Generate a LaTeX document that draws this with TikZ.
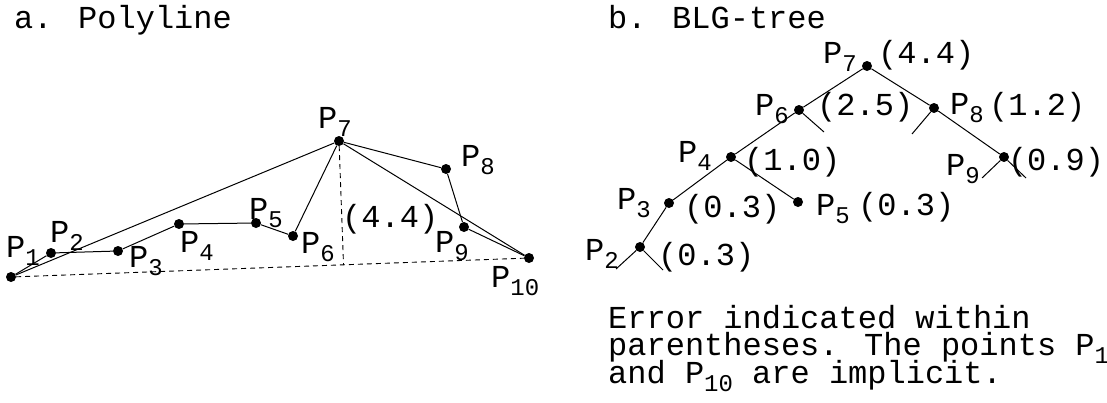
\documentclass[tikz,border=0pt]{standalone}
\usepackage{fontspec}
\setmainfont{Liberation Mono}
\usetikzlibrary{calc}

\newcommand{\pp}[1]{P\raisebox{-8pt}{\fontsize{24}{24}\selectfont #1}}

\begin{document}
\begin{tikzpicture}[x=1pt,y=-1pt,
  line/.style={draw=black,line width=1pt},
  guide/.style={draw=black,line width=0.9pt,dash pattern=on 5pt off 4pt},
  dot/.style={circle,fill=black,inner sep=0pt,minimum size=10pt},
  label/.style={font={\fontsize{32}{27.5}\selectfont\lineskiplimit=-30pt},inner sep=0pt,anchor=base west},
]
\path[use as bounding box] (0,0) rectangle (1107,402);
\node[label] (head-a) at (14,28) {a. Polyline};
\node[label] (head-b) at (608,28) {b. BLG-tree};

% a. the polyline
\node[dot] (p1) at (11,277) {};
\node[dot] (p2) at (51,253) {};
\node[dot] (p3) at (118,251) {};
\node[dot] (p4) at (179,224) {};
\node[dot] (p5) at (256,223) {};
\node[dot] (p6) at (293,236) {};
\node[dot] (p7) at (339,141) {};
\node[dot] (p8) at (446,169) {};
\node[dot] (p9) at (464,227) {};
\node[dot] (p10) at (529,258) {};
\draw[line] (p1) -- (p2) -- (p3) -- (p4) -- (p5) -- (p6) -- (p7) -- (p8) -- (p9) -- (p10);
\draw[line] (p1) -- (p7) -- (p10);
\coordinate (foot) at ($(p1)!(p7)!(p10)$);
\draw[guide] (p1) -- (p10);
\draw[guide] (p7) -- (foot);
\node[label] (lp1) at (6,257) {\pp{1}};
\node[label] (lp2) at (50,242) {\pp{2}};
\node[label] (lp3) at (129,267) {\pp{3}};
\node[label] (lp4) at (180,252) {\pp{4}};
\node[label] (lp5) at (249,219) {\pp{5}};
\node[label] (lp6) at (301,253) {\pp{6}};
\node[label] (lp7) at (318,128) {\pp{7}};
\node[label] (lp8) at (461,166) {\pp{8}};
\node[label] (lp9) at (435,252) {\pp{9}};
\node[label] (lp10) at (491,287) {\pp{10}};
\node[label] (err) at (342,227) {(4.4)};

% b. the BLG-tree
\node[dot] (t7) at (867,66) {};
\node[dot] (t6) at (799,110) {};
\node[dot] (t8) at (934,108) {};
\node[dot] (t4) at (731,157) {};
\node[dot] (t9) at (1004,157) {};
\node[dot] (t3) at (669,203) {};
\node[dot] (t5) at (798,202) {};
\node[dot] (t2) at (640,247) {};
\coordinate (s6) at (824,132);
\coordinate (s8) at (912,134);
\coordinate (s9l) at (982,178);
\coordinate (s9r) at (1026,178);
\coordinate (s2l) at (616,269);
\coordinate (s2r) at (663,270);
\draw[line] (t6) -- (t7) -- (t8) -- (t9);
\draw[line] (t2) -- (t3) -- (t4) -- (t6) -- (s6);
\draw[line] (t4) -- (t5);
\draw[line] (t8) -- (s8);
\draw[line] (s9l) -- (t9) -- (s9r);
\draw[line] (s2l) -- (t2) -- (s2r);
\node[label] (lt7) at (823,63) {\pp{7}};
\node[label] (et7) at (878,63) {(4.4)};
\node[label] (lt6) at (755,115) {\pp{6}};
\node[label] (et6) at (817,115) {(2.5)};
\node[label] (lt8) at (950,114) {\pp{8}};
\node[label] (et8) at (989,115) {(1.2)};
\node[label] (lt4) at (678,162) {\pp{4}};
\node[label] (et4) at (744,170) {(1.0)};
\node[label] (lt9) at (946,175) {\pp{9}};
\node[label,anchor=base] (et9) at (1056,170) {(0.9)};
\node[label] (lt3) at (617,209) {\pp{3}};
\node[label] (et3) at (684,217) {(0.3)};
\node[label] (lt5) at (816,215) {\pp{5}};
\node[label] (et5) at (858,215) {(0.3)};
\node[label] (lt2) at (585,260) {\pp{2}};
\node[label] (et2) at (658,265) {(0.3)};

\node[label,anchor=north west,align=left] (note) at (608,305)
  {Error indicated within\\parentheses. The points \pp{1}\\and \pp{10} are implicit.};
\end{tikzpicture}
\end{document}
